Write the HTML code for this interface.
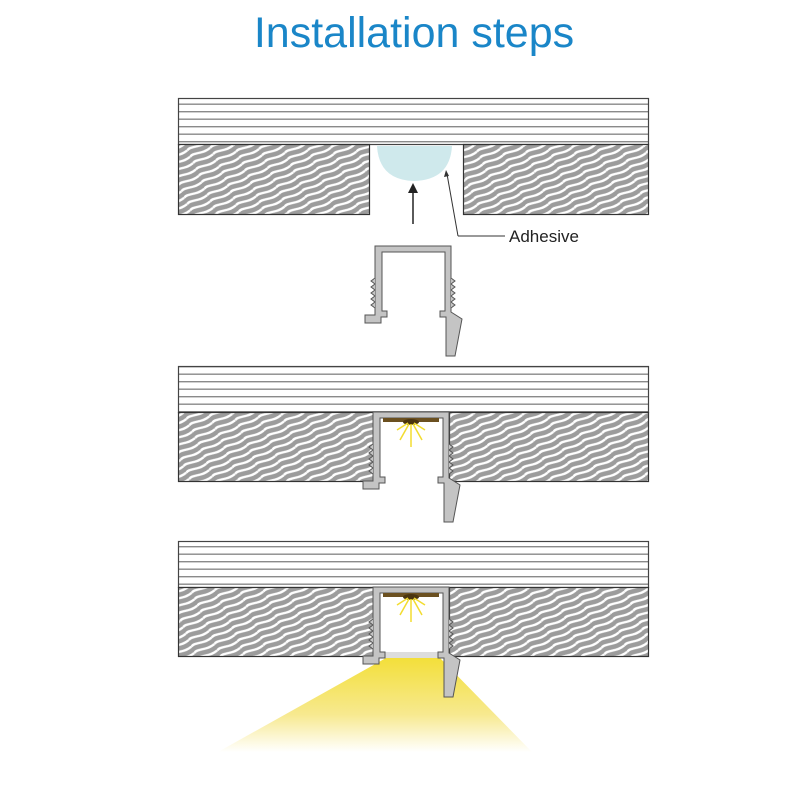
<!DOCTYPE html>
<html><head><meta charset="utf-8"><style>
html,body{margin:0;padding:0;background:#fff}
svg{display:block}
</style></head><body>
<svg width="800" height="800" viewBox="0 0 800 800" xmlns="http://www.w3.org/2000/svg">
<defs>
<pattern id="wood" width="22" height="7" patternUnits="userSpaceOnUse" patternTransform="rotate(-24)">
<rect width="22" height="7" fill="#9c9c9c"/>
<path d="M0,3.5 C6,0.5 11,6.5 22,3.5" stroke="#fff" stroke-width="2.4" fill="none"/>
</pattern>
<pattern id="board" width="470" height="7.5" patternUnits="userSpaceOnUse" x="0" y="0">
<rect width="470" height="7.5" fill="#fff"/>
<rect y="6" width="470" height="1.4" fill="#8a8a8a"/>
</pattern>
<linearGradient id="beam" x1="0" y1="0" x2="0" y2="1">
<stop offset="0" stop-color="#f3df3a"/>
<stop offset="0.6" stop-color="#f7e98f"/>
<stop offset="1" stop-color="#ffffff"/>
</linearGradient>
<g id="prof">
<path d="M0,0 H76 V66 L87,73 L80,110 L71,110 V71 H65 V65 H70 V6 H7 V65 H12 V71 H6 V77 H-10 V69 H0 Z" fill="#c4c4c4" stroke="#555" stroke-width="1"/>
<path d="M0,32 l-4,3 l4,3 l-4,3 l4,3 l-4,3 l4,3 l-4,3 l4,3 l-4,3 l4,3" fill="#c4c4c4" stroke="#555" stroke-width="1"/>
<path d="M76,32 l4,3 l-4,3 l4,3 l-4,3 l4,3 l-4,3 l4,3 l-4,3 l4,3 l-4,3" fill="#c4c4c4" stroke="#555" stroke-width="1"/>
</g>
<g id="led">
<rect x="10" y="6" width="56" height="4" fill="#6b5020"/>
<ellipse cx="38" cy="10" rx="8" ry="3" fill="#4a3510"/>
<g stroke="#f2dc30" stroke-width="1.5">
<line x1="38" y1="12" x2="38" y2="35"/><line x1="36" y1="12" x2="27" y2="28"/><line x1="40" y1="12" x2="49" y2="28"/><line x1="35" y1="11" x2="24" y2="18"/><line x1="41" y1="11" x2="52" y2="18"/>
</g>
</g>
</defs>
<text x="414" y="47" text-anchor="middle" font-family="Liberation Sans, sans-serif" font-size="43" fill="#1a86c8">Installation steps</text>

<!-- Panel 1 -->
<rect x="178.5" y="98.5" width="470" height="46" fill="url(#board)" stroke="#444" stroke-width="1.2"/>
<rect x="178.5" y="144.5" width="191" height="70" fill="url(#wood)" stroke="#333" stroke-width="1.2"/>
<rect x="463.5" y="144.5" width="185" height="70" fill="url(#wood)" stroke="#333" stroke-width="1.2"/>
<path d="M377,146 H452 Q450,180 414,181 Q379,180 377,146 Z" fill="#cfe9ec"/>
<line x1="413" y1="224" x2="413" y2="190" stroke="#222" stroke-width="1.5"/>
<polygon points="413,183 408,193 418,193" fill="#222"/>
<polyline points="458,236 447,174" fill="none" stroke="#333" stroke-width="1"/>
<polygon points="446,170 444,177 449,176" fill="#333"/>
<line x1="458" y1="236" x2="505" y2="236" stroke="#333" stroke-width="1"/>
<text x="509" y="242" font-family="Liberation Sans, sans-serif" font-size="17" fill="#222">Adhesive</text>
<use href="#prof" x="375" y="246"/>

<!-- Panel 2 -->
<rect x="178.5" y="366.5" width="470" height="46" fill="url(#board)" stroke="#444" stroke-width="1.2"/>
<rect x="178.5" y="412.5" width="195" height="69" fill="url(#wood)" stroke="#333" stroke-width="1.2"/>
<rect x="449.5" y="412.5" width="199" height="69" fill="url(#wood)" stroke="#333" stroke-width="1.2"/>
<use href="#prof" x="373" y="412"/>
<use href="#led" x="373" y="412"/>

<!-- Panel 3 -->
<polygon points="386,658 440,658 532,752 218,752" fill="url(#beam)"/>
<rect x="178.5" y="541.5" width="470" height="46" fill="url(#board)" stroke="#444" stroke-width="1.2"/>
<rect x="178.5" y="587.5" width="195" height="69" fill="url(#wood)" stroke="#333" stroke-width="1.2"/>
<rect x="449.5" y="587.5" width="199" height="69" fill="url(#wood)" stroke="#333" stroke-width="1.2"/>
<rect x="385" y="652" width="59" height="6" fill="#ddd"/>
<use href="#prof" x="373" y="587"/>
<use href="#led" x="373" y="587"/>
</svg>
</body></html>
